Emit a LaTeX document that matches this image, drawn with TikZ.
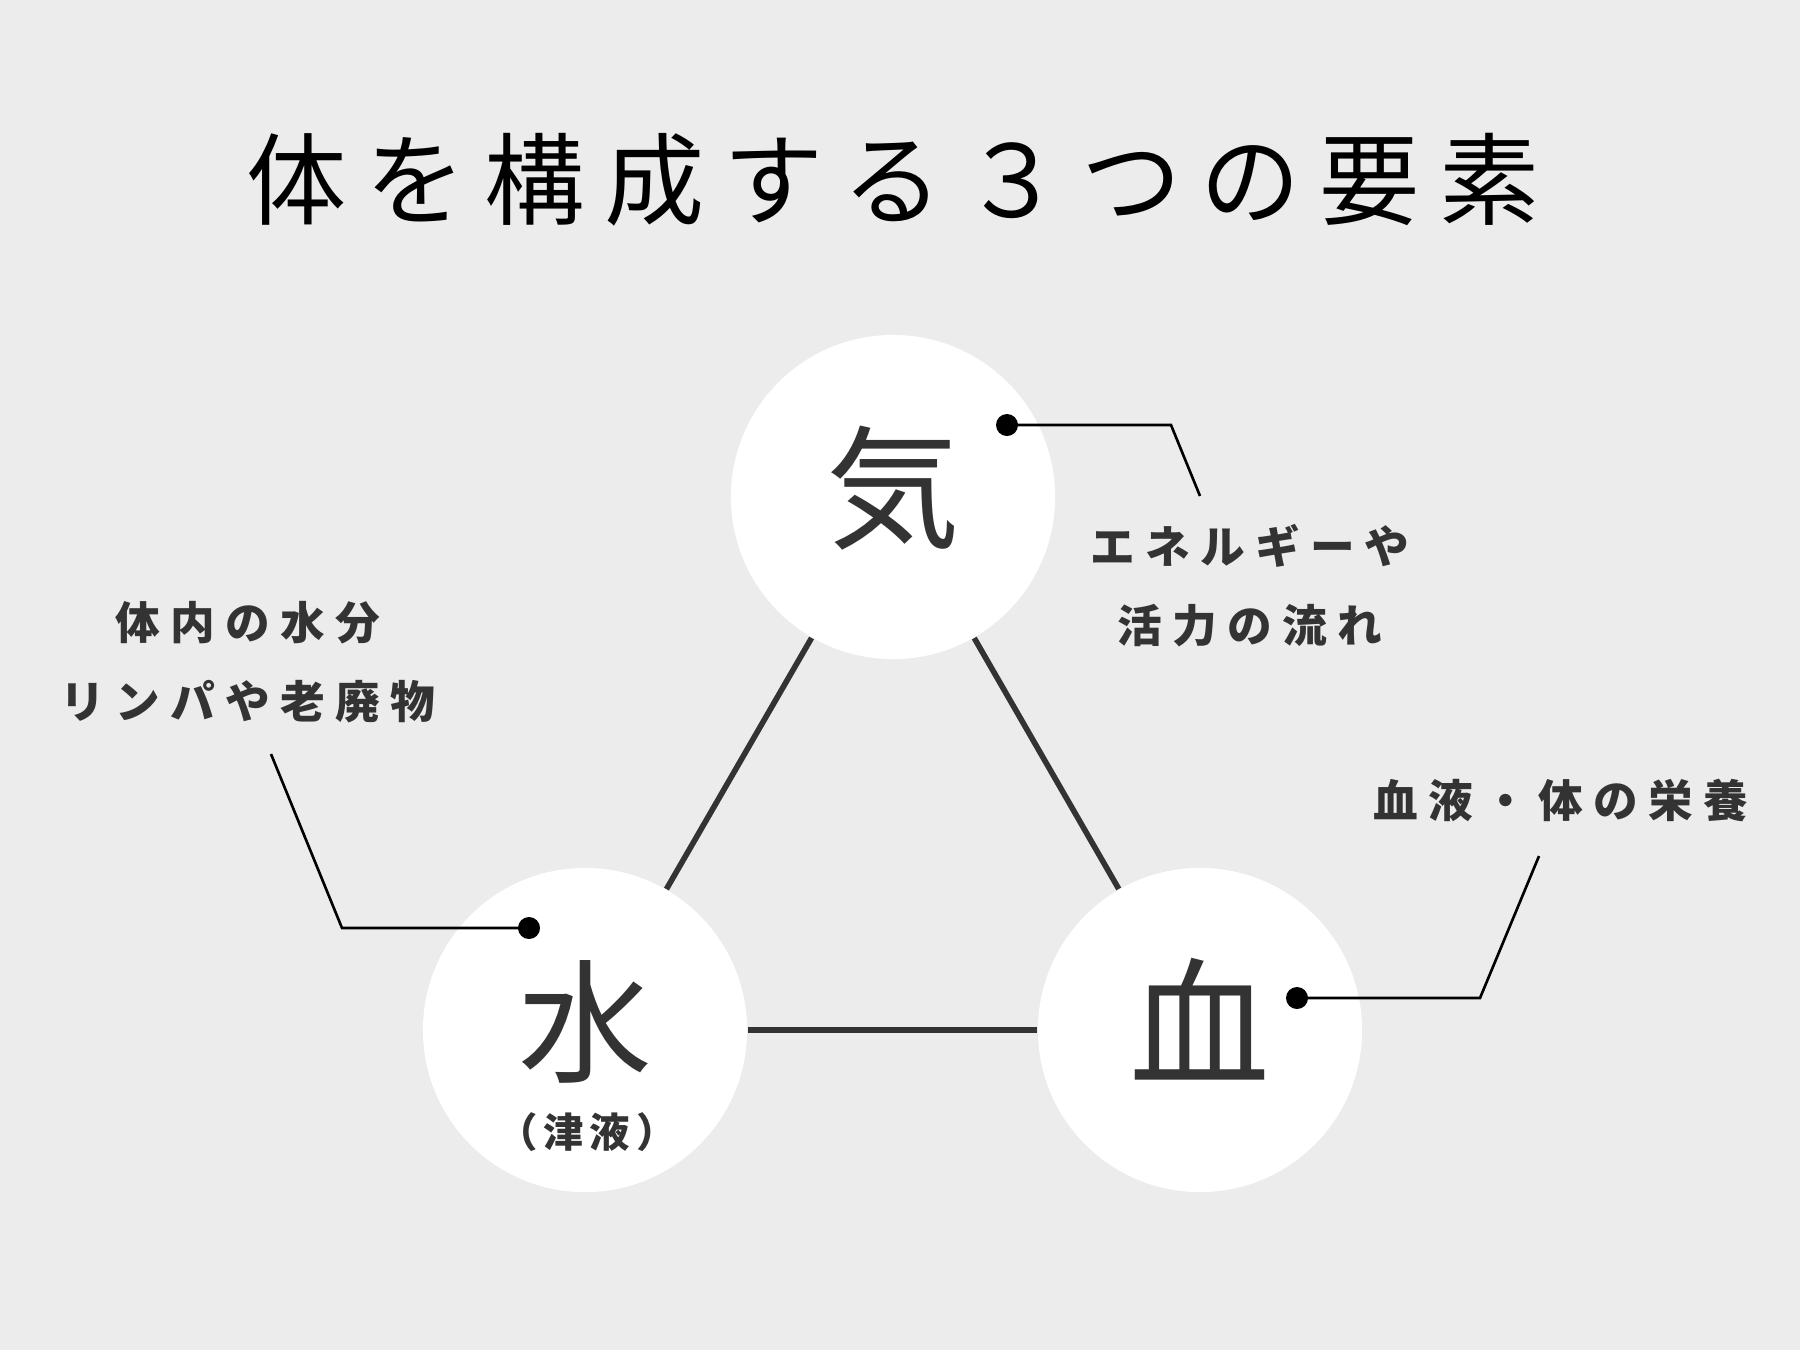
\documentclass[tikz,border=0pt]{standalone}
\usepackage{fontspec}
\newfontfamily\jpfont{Noto Sans CJK JP}
\definecolor{bg}{HTML}{ECECEC}
\definecolor{ink}{HTML}{333333}
\tikzset{
  element/.style={circle, fill=white, minimum size=3.24cm, inner sep=0pt},
  bond/.style={draw=ink, line width=1.6pt},
  lead/.style={draw=black, line width=0.75pt},
  pin/.style={circle, fill=black, minimum size=0.22cm, inner sep=0pt},
  note/.style={text=ink, align=center, inner sep=0pt,
    font=\jpfont\bfseries\fontsize{12.7}{22.5}\selectfont\addfontfeature{LetterSpace=23}},
  kanji/.style={text=ink, inner sep=0pt, font=\jpfont\fontsize{38}{40}\selectfont}
}
\begin{document}
\begin{tikzpicture}[x=0.01cm, y=-0.01cm]
  % Fondo
  \fill[bg] (0,0) rectangle (1800,1350);

  % Titulo
  \node[inner sep=0pt, text=black, font=\jpfont\fontsize{28.5}{30}\selectfont\addfontfeature{LetterSpace=19}]
    (titulo) at (893,180) {体を構成する３つの要素};

  % Los tres elementos
  \node[element] (ki) at (893,497) {};
  \node[element] (mizu) at (585,1030) {};
  \node[element] (ketsu) at (1200,1030) {};
  \draw[bond] (ki) -- (mizu);
  \draw[bond] (ki) -- (ketsu);
  \draw[bond] (mizu) -- (ketsu);

  \node[kanji] (kiTxt) at (893,488) {気};
  \node[kanji] (mizuTxt) at (585,1022) {水};
  \node[text=ink, inner sep=0pt, font=\jpfont\bfseries\fontsize{11.5}{12}\selectfont\addfontfeature{LetterSpace=15}]
    (shinTxt) at (587,1132) {（津液）};
  \node[kanji, font=\jpfont\fontsize{40}{42}\selectfont] (ketsuTxt) at (1200,1019) {血};

  % Explicaciones
  \node[note] (kiNota) at (1250,586) {エネルギーや\\活力の流れ};
  \node[note] (mizuNota) at (248,662) {体内の水分\\リンパや老廃物};
  \node[note] (ketsuNota) at (1561,800) {血液・体の栄養};

  % Lineas de referencia
  \node[pin] (kiPin) at (1007,425) {};
  \coordinate (kiCodo) at (1171,425);
  \coordinate (kiFin) at (1200,496);
  \draw[lead] (kiPin.center) -- (kiCodo) -- (kiFin);

  \node[pin] (mizuPin) at (529,928) {};
  \coordinate (mizuCodo) at (342,928);
  \coordinate (mizuFin) at (271,754);
  \draw[lead] (mizuPin.center) -- (mizuCodo) -- (mizuFin);

  \node[pin] (ketsuPin) at (1297,998) {};
  \coordinate (ketsuCodo) at (1480,998);
  \coordinate (ketsuFin) at (1539,856);
  \draw[lead] (ketsuPin.center) -- (ketsuCodo) -- (ketsuFin);
\end{tikzpicture}
\end{document}
